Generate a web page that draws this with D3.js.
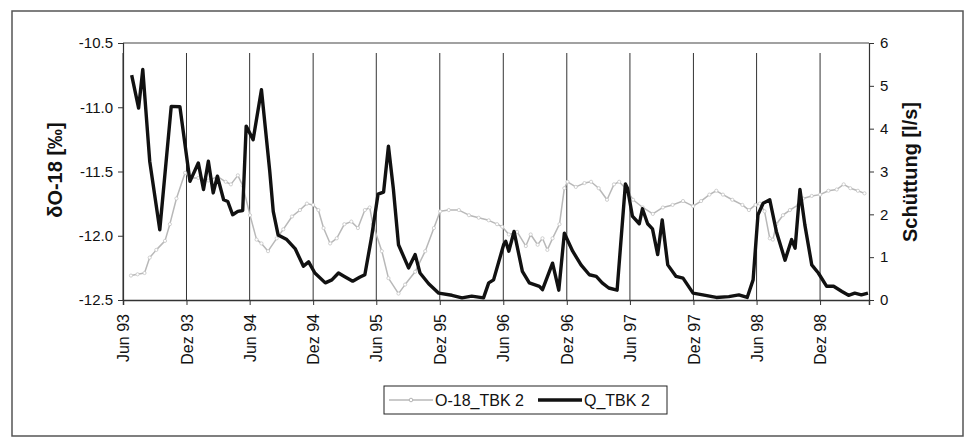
<!DOCTYPE html>
<html><head><meta charset="utf-8">
<script src="https://cdn.jsdelivr.net/npm/d3@7"></script>
<style>body{margin:0;background:#fff}svg{display:block}text{font-family:"Liberation Sans",Arial,sans-serif}</style>
</head><body><svg id="c" width="968" height="438"></svg>
<script>
const tickDates = ["1993-06-01","1993-12-01","1994-06-01","1994-12-01","1995-06-01","1995-12-01","1996-06-01","1996-12-01","1997-06-01","1997-12-01","1998-06-01","1998-12-01"];
const tickLabels = ["Jun 93","Dez 93","Jun 94","Dez 94","Jun 95","Dez 95","Jun 96","Dez 96","Jun 97","Dez 97","Jun 98","Dez 98"];
const leftTicks = [-12.5,-12.0,-11.5,-11.0,-10.5];
const rightTicks = [0,1,2,3,4,5,6];
const seriesNames = ["O-18_TBK 2","Q_TBK 2"];

const qDates = ["1993-06-26","1993-07-16","1993-07-28","1993-08-17","1993-09-15","1993-10-18","1993-11-12","1993-12-11","1994-01-04","1994-01-19","1994-02-02","1994-02-16","1994-02-28","1994-03-18","1994-03-30","1994-04-13","1994-04-28","1994-05-12","1994-05-22","1994-06-11","1994-07-05","1994-07-29","1994-08-08","1994-08-22","1994-09-16","1994-10-10","1994-11-03","1994-11-18","1994-12-06","1995-01-05","1995-01-24","1995-02-12","1995-03-01","1995-03-25","1995-04-14","1995-04-29","1995-05-18","1995-06-06","1995-06-22","1995-07-06","1995-07-20","1995-08-04","1995-09-02","1995-09-21","1995-10-05","1995-10-30","1995-11-28","1996-01-05","1996-02-03","1996-03-02","1996-04-05","1996-04-20","1996-05-04","1996-06-02","1996-06-08","1996-06-17","1996-07-02","1996-07-26","1996-08-15","1996-09-13","1996-09-22","1996-10-21","1996-11-08","1996-11-24","1996-12-18","1997-01-11","1997-02-04","1997-02-24","1997-03-13","1997-04-01","1997-04-25","1997-05-19","1997-05-25","1997-06-08","1997-06-28","1997-07-07","1997-07-22","1997-08-05","1997-08-20","1997-09-02","1997-09-18","1997-10-12","1997-11-01","1997-11-30","1997-12-28","1998-02-05","1998-03-13","1998-04-11","1998-05-05","1998-05-22","1998-06-05","1998-06-20","1998-07-09","1998-07-28","1998-08-22","1998-09-10","1998-09-20","1998-10-04","1998-10-18","1998-11-07","1998-11-26","1998-12-20","1999-01-09","1999-02-02","1999-02-21","1999-03-11","1999-03-30","1999-04-18"];
const qValues = [5.25,4.48,5.38,3.24,1.64,4.52,4.51,2.77,3.20,2.58,3.24,2.50,2.89,2.34,2.30,1.99,2.07,2.09,4.06,3.74,4.91,3.00,2.07,1.52,1.41,1.20,0.79,0.89,0.63,0.40,0.47,0.63,0.55,0.44,0.53,0.59,1.45,2.47,2.52,3.59,2.61,1.29,0.75,1.06,0.63,0.38,0.16,0.11,0.05,0.09,0.05,0.40,0.47,1.29,1.37,1.14,1.60,0.67,0.40,0.32,0.24,0.86,0.23,1.56,1.14,0.82,0.59,0.55,0.40,0.28,0.23,2.71,2.61,1.96,1.78,2.13,1.78,1.66,1.06,1.87,0.82,0.55,0.51,0.16,0.12,0.06,0.08,0.12,0.06,0.47,1.99,2.26,2.34,1.60,0.93,1.41,1.21,2.58,1.76,0.82,0.63,0.32,0.32,0.20,0.11,0.16,0.12,0.16];

const oDates = ["1993-06-24","1993-07-13","1993-08-02","1993-08-17","1993-09-05","1993-09-30","1993-10-14","1993-11-02","1993-11-27","1993-12-11","1994-01-04","1994-02-02","1994-03-01","1994-03-24","1994-04-08","1994-04-28","1994-05-12","1994-06-02","1994-06-21","1994-07-05","1994-07-24","1994-08-18","1994-09-06","1994-10-01","1994-10-24","1994-11-13","1994-12-01","1994-12-16","1994-12-31","1995-01-19","1995-02-07","1995-03-01","1995-03-21","1995-04-09","1995-04-29","1995-05-13","1995-05-22","1995-06-17","1995-07-06","1995-08-04","1995-08-23","1995-09-21","1995-10-20","1995-11-14","1995-12-02","1995-12-27","1996-01-25","1996-02-23","1996-03-22","1996-04-20","1996-05-14","1996-05-29","1996-06-17","1996-07-11","1996-08-05","1996-08-19","1996-09-08","1996-09-22","1996-10-06","1996-10-21","1996-11-10","1996-11-24","1996-12-03","1996-12-27","1997-01-21","1997-02-09","1997-03-03","1997-03-27","1997-04-16","1997-05-01","1997-05-19","1997-06-10","1997-07-08","1997-08-06","1997-09-04","1997-10-02","1997-11-01","1997-11-30","1997-12-23","1998-01-16","1998-02-05","1998-02-24","1998-03-23","1998-04-21","1998-05-10","1998-05-29","1998-06-10","1998-06-24","1998-07-09","1998-07-18","1998-07-28","1998-08-16","1998-09-05","1998-09-29","1998-10-13","1998-11-07","1998-12-01","1998-12-25","1999-01-18","1999-02-07","1999-02-26","1999-03-20","1999-04-08"];
const oValues = [-12.31,-12.30,-12.29,-12.17,-12.11,-12.04,-11.91,-11.71,-11.51,-11.55,-11.55,-11.57,-11.54,-11.58,-11.60,-11.53,-11.61,-11.84,-12.03,-12.06,-12.12,-12.02,-11.95,-11.85,-11.80,-11.75,-11.76,-11.80,-11.94,-12.06,-12.02,-11.91,-11.89,-11.94,-11.80,-11.78,-11.91,-12.12,-12.33,-12.45,-12.38,-12.28,-12.12,-11.94,-11.81,-11.80,-11.80,-11.84,-11.86,-11.88,-11.91,-11.93,-11.99,-11.97,-12.08,-11.99,-12.07,-12.02,-12.11,-12.02,-11.91,-11.63,-11.58,-11.62,-11.59,-11.58,-11.63,-11.72,-11.60,-11.58,-11.63,-11.72,-11.78,-11.83,-11.78,-11.76,-11.73,-11.77,-11.73,-11.68,-11.65,-11.68,-11.72,-11.76,-11.80,-11.76,-11.75,-11.81,-12.02,-12.03,-11.91,-11.84,-11.80,-11.76,-11.71,-11.69,-11.68,-11.65,-11.64,-11.60,-11.63,-11.65,-11.67];

const parse = d3.utcParse("%Y-%m-%d");
const svg = d3.select("#c");
const L = 123, R = 869, T = 43, B = 300;

// outer frame
svg.append("rect").attr("x",12).attr("y",11).attr("width",951).attr("height",425)
  .attr("fill","#fff").attr("stroke","#555").attr("stroke-width",1.5);

const x = d3.scaleUtc().domain([parse("1993-06-01"), parse("1999-04-21")]).range([L, R]);
const yL = d3.scaleLinear().domain([-12.5, -10.5]).range([B, T]);
const yR = d3.scaleLinear().domain([0, 6]).range([B, T]);

// gridlines
svg.append("g").selectAll("line").data(tickDates.map(parse)).join("line")
  .attr("x1", d => x(d)).attr("x2", d => x(d)).attr("y1", 53).attr("y2", B)
  .attr("stroke", "#333").attr("stroke-width", 1);

// plot frame top
svg.append("line").attr("x1",L).attr("x2",R).attr("y1",T).attr("y2",T).attr("stroke","#444").attr("stroke-width",1.2);

// left axis
const gL = svg.append("g").attr("transform",`translate(${L},0)`)
  .call(d3.axisLeft(yL).tickValues(leftTicks).tickFormat(d => d3.format(".1f")(d).replace("−","-")).tickSize(5).tickPadding(5));
gL.select(".domain").attr("stroke","#333").attr("stroke-width",1.2);
gL.selectAll(".tick line").attr("stroke","#333");
gL.selectAll(".tick text").attr("font-size",15).attr("fill","#111");

// right axis
const gR = svg.append("g").attr("transform",`translate(${R},0)`)
  .call(d3.axisRight(yR).tickValues(rightTicks).tickFormat(d3.format("d")).tickSize(5).tickPadding(6));
gR.select(".domain").attr("stroke","#333").attr("stroke-width",1.2);
gR.selectAll(".tick line").attr("stroke","#333");
gR.selectAll(".tick text").attr("font-size",15).attr("fill","#111");

// bottom axis
const gB = svg.append("g").attr("transform",`translate(0,${B})`)
  .call(d3.axisBottom(x).tickValues(tickDates.map(parse)).tickFormat((d,i) => tickLabels[i]).tickSize(5).tickPadding(0));
gB.select(".domain").attr("stroke","#333").attr("stroke-width",1.5);
gB.selectAll(".tick line").attr("stroke","#333");
gB.selectAll(".tick text").attr("font-size",16).attr("fill","#111")
  .attr("transform","rotate(-90)").attr("text-anchor","end").attr("x",-14).attr("y",0).attr("dy","0.35em");

// axis titles
svg.append("text").attr("transform","translate(62,170) rotate(-90)").attr("text-anchor","middle")
  .attr("font-size",20).attr("font-weight","bold").attr("fill","#111").text("δO-18 [‰]");
svg.append("text").attr("transform","translate(917,172) rotate(-90)").attr("text-anchor","middle")
  .attr("font-size",20).attr("font-weight","bold").attr("fill","#111").text("Schüttung [l/s]");

// series
const oData = d3.zip(oDates.map(parse), oValues);
const qData = d3.zip(qDates.map(parse), qValues);
const lineO = d3.line().x(d => x(d[0])).y(d => yL(d[1]));
const lineQ = d3.line().x(d => x(d[0])).y(d => yR(d[1]));

svg.append("path").datum(oData).attr("d", lineO).attr("fill","none")
  .attr("stroke","#b8b8b8").attr("stroke-width",1.5).attr("stroke-linejoin","round");
svg.append("g").selectAll("circle").data(oData).join("circle")
  .attr("cx", d => x(d[0])).attr("cy", d => yL(d[1])).attr("r",1.6)
  .attr("fill","#fff").attr("stroke","#c4c4c4").attr("stroke-width",0.8);
svg.append("path").datum(qData).attr("d", lineQ).attr("fill","none")
  .attr("stroke","#111").attr("stroke-width",3.4).attr("stroke-linejoin","round");

// legend
const lg = svg.append("g");
lg.append("rect").attr("x",384).attr("y",386).attr("width",283).attr("height",28)
  .attr("fill","#fff").attr("stroke","#222").attr("stroke-width",1);
lg.append("line").attr("x1",389).attr("x2",433).attr("y1",400).attr("y2",400)
  .attr("stroke","#b8b8b8").attr("stroke-width",1.5);
lg.append("circle").attr("cx",411).attr("cy",400).attr("r",1.8).attr("fill","#fff").attr("stroke","#b4b4b4");
lg.append("text").attr("x",435).attr("y",400).attr("dy","0.35em").attr("font-size",16).attr("fill","#111").text(seriesNames[0]);
lg.append("line").attr("x1",538).attr("x2",582).attr("y1",400).attr("y2",400)
  .attr("stroke","#111").attr("stroke-width",3.4);
lg.append("text").attr("x",584).attr("y",400).attr("dy","0.35em").attr("font-size",16).attr("fill","#111").text(seriesNames[1]);
</script></body></html>
